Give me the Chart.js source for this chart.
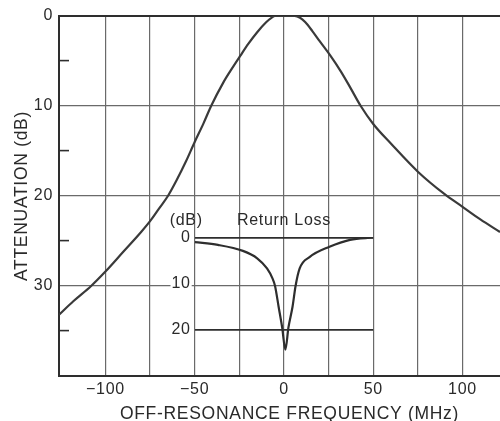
<!DOCTYPE html>
<html>
<head>
<meta charset="utf-8">
<script src="https://cdn.jsdelivr.net/npm/chart.js@4.4.1/dist/chart.umd.min.js"></script>
<style>
html, body { margin: 0; padding: 0; background: #fff; overflow: hidden; }
#wrap { position: relative; width: 500px; height: 421px; background: #fff; overflow: hidden; }
#wrap canvas { position: absolute; left: 0; top: 0; }
</style>
</head>
<body>
<div id="wrap">
  <canvas id="main" width="520" height="421"></canvas>
  <canvas id="inset" width="500" height="421"></canvas>
</div>
<script>
// ---- Data ----
// Main curve: attenuation (dB) vs off-resonance frequency (MHz)
const attenFreq = [-126, -118, -108, -100, -90, -80, -75, -70, -65, -60, -55, -50, -45, -40.8, -34, -30, -24.4, -20, -15, -10, -7, -5, 0, 6, 9, 12, 16, 20, 26, 32, 37, 43, 50, 60, 75, 90, 100, 110, 121];
const attenDb   = [33.2, 31.7, 30.0, 28.4, 26.2, 24.0, 22.8, 21.4, 20.0, 18.2, 16.2, 14.0, 11.9, 10.0, 7.4, 6.1, 4.4, 3.1, 1.8, 0.7, 0.2, 0, 0, 0, 0.2, 0.7, 1.7, 2.8, 4.4, 6.2, 7.9, 10.0, 12.0, 14.2, 17.3, 19.8, 21.2, 22.6, 24.0];

// Inset: return loss (dB) vs frequency (MHz)
const rlFreq = [-50, -37, -23, -15, -9.5, -6.5, -5, -3, -1, 0.8, 2.5, 4.8, 6.5, 8.8, 14.5, 25.5, 37, 50];
const rlDb   = [1.0, 1.6, 2.9, 4.5, 6.7, 8.8, 10.5, 15.0, 19.5, 24.3, 19.5, 15.0, 10.5, 6.7, 4.2, 2.0, 0.5, 0];

// Ticks and labels
const xGridValues = [-100, -75, -50, -25, 0, 25, 50, 75, 100, 125];
const xTickLabels = { '-100': '\u2212100', '-50': '\u221250', '0': '0', '50': '50', '100': '100' };
const yTickValues = [0, 5, 10, 15, 20, 25, 30, 35, 40];
const yTickLabels = { '0': '0', '10': '10', '20': '20', '30': '30' };
const insetTickValues = [0, 10, 20];
const insetTickLabels = { '0': '0', '10': '10', '20': '20' };

// Texts
const xTitle = 'OFF-RESONANCE FREQUENCY (MHz)';
const yTitle = 'ATTENUATION (dB)';
const insetTitle = 'Return Loss';
const insetUnit = '(dB)';

// ---- Styling ----
Chart.defaults.font.family = '"Liberation Sans", Arial, sans-serif';
Chart.defaults.color = '#2a2a2a';
const INK = '#2e2e2e';
const GRID = '#6a6a6a';
const CLEAR = 'rgba(0,0,0,0)';

const spacing = {
  id: 'spacing',
  beforeUpdate(c) { c.ctx.letterSpacing = '0.7px'; },
  beforeDraw(c) { c.ctx.letterSpacing = '0.7px'; }
};

// The plot continues past the right edge of the 500px picture (cropped figure)
const mainChart = new Chart(document.getElementById('main'), {
  type: 'line',
  data: {
    datasets: [{
      data: attenFreq.map((f, i) => ({ x: f, y: attenDb[i] })),
      borderColor: '#3a3a3a',
      borderWidth: 2.2,
      pointRadius: 0,
      cubicInterpolationMode: 'monotone',
      fill: false
    }]
  },
  options: {
    responsive: false,
    animation: false,
    devicePixelRatio: 1,
    layout: { padding: { top: 16, left: 0, right: 0, bottom: 0 } },
    plugins: { legend: { display: false }, tooltip: { enabled: false }, title: { display: false } },
    scales: {
      x: {
        type: 'linear', min: -126, max: 132.2,
        afterBuildTicks: s => { s.ticks = xGridValues.map(v => ({ value: v })); },
        afterFit: s => { s.height = 45; s.paddingLeft = 0; s.paddingRight = 0; },
        ticks: {
          autoSkip: false, maxRotation: 0, padding: 4,
          font: { size: 16 }, color: '#2a2a2a',
          callback: v => xTickLabels[String(v)] ?? ''
        },
        grid: { color: GRID, lineWidth: 1.2, drawTicks: false },
        border: { display: true, color: INK, width: 2 },
        title: {
          display: true, text: xTitle, color: '#2a2a2a',
          font: { size: 17.5, lineHeight: 1 },
          padding: { top: 0, bottom: -2 }
        }
      },
      y: {
        type: 'linear', reverse: true, min: 0, max: 40,
        afterBuildTicks: s => { s.ticks = yTickValues.map(v => ({ value: v })); },
        afterFit: s => { s.width = 59; s.paddingTop = 0; s.paddingBottom = 0; },
        ticks: {
          autoSkip: false, padding: 16,
          font: { size: 16 }, color: '#2a2a2a',
          callback: v => yTickLabels[String(v)] ?? ''
        },
        grid: {
          color: c => (c.tick.value % 10 === 0 && c.tick.value !== 40) ? (c.tick.value === 0 ? INK : GRID) : CLEAR,
          lineWidth: c => c.tick.value === 0 ? 2 : 1.2,
          drawTicks: true,
          tickLength: -10,
          tickColor: c => (c.tick.value % 10 === 5) ? INK : CLEAR,
          tickWidth: 1.6
        },
        border: { display: true, color: INK, width: 2 },
        title: {
          display: true, text: yTitle, color: '#2a2a2a',
          font: { size: 17.5, lineHeight: 1.2 },
          padding: { top: 12, bottom: 0 }
        }
      }
    }
  },
  plugins: [spacing]
});

// ---- Inset (Return Loss) placed over the main chart's -50..50 MHz span ----
const insetLeft = mainChart.scales.x.getPixelForValue(-50);
const insetRight = mainChart.scales.x.getPixelForValue(50);
const insetTop = 237.5;
const insetBottom = mainChart.chartArea.bottom;
const insetTitleSize = 16, insetTitleLH = 1.2, insetTitlePad = 7;
const insetTitleH = insetTitleSize * insetTitleLH + insetTitlePad;

const unitLabel = {
  id: 'unitLabel',
  afterDraw(c) {
    const { ctx, chartArea } = c;
    ctx.save();
    ctx.font = '16px "Liberation Sans", Arial, sans-serif';
    ctx.fillStyle = '#2a2a2a';
    ctx.textAlign = 'right';
    ctx.textBaseline = 'middle';
    ctx.fillText(insetUnit, chartArea.left + 8, chartArea.top - 17);
    ctx.restore();
  }
};

new Chart(document.getElementById('inset'), {
  type: 'line',
  data: {
    datasets: [{
      data: rlFreq.map((f, i) => ({ x: f, y: rlDb[i] })),
      borderColor: INK,
      borderWidth: 2.2,
      pointRadius: 0,
      cubicInterpolationMode: 'monotone',
      fill: false
    }]
  },
  options: {
    responsive: false,
    animation: false,
    devicePixelRatio: 1,
    layout: { padding: { left: 0, right: 500 - insetRight, top: insetTop - insetTitleH, bottom: 421 - insetBottom } },
    plugins: {
      legend: { display: false }, tooltip: { enabled: false },
      title: {
        display: true, text: insetTitle, fullSize: false, align: 'center', color: '#2a2a2a',
        font: { size: insetTitleSize, lineHeight: insetTitleLH, weight: 'normal' },
        padding: { top: 0, bottom: insetTitlePad }
      }
    },
    scales: {
      x: { type: 'linear', min: -50, max: 50, display: false },
      y: {
        type: 'linear', reverse: true, min: 0, max: 30,
        afterBuildTicks: s => { s.ticks = insetTickValues.map(v => ({ value: v })); },
        afterFit: s => { s.width = insetLeft; s.paddingTop = 0; s.paddingBottom = 0; },
        ticks: {
          autoSkip: false, padding: 4,
          font: { size: 16 }, color: '#2a2a2a',
          callback: v => insetTickLabels[String(v)] ?? '',
          showLabelBackdrop: true, backdropColor: '#ffffff',
          backdropPadding: { top: 0, bottom: 0, left: 1, right: 1 }
        },
        grid: {
          color: c => c.tick.value === 10 ? CLEAR : INK,
          lineWidth: 1.8,
          drawTicks: false
        },
        border: { display: false }
      }
    }
  },
  plugins: [spacing, unitLabel]
});
</script>
</body>
</html>
